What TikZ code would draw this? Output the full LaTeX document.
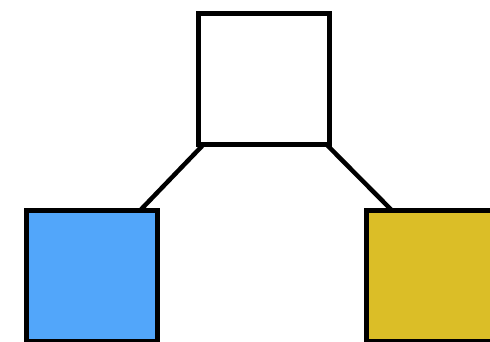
\documentclass[tikz,border=0pt]{standalone}
\begin{document}
\begin{tikzpicture}[x=1pt,y=-1pt,
  box/.style={draw=black,line width=5pt,minimum size=131pt,inner sep=0pt,outer sep=0pt},
  link/.style={draw=black,line width=4.5pt}]
\definecolor{boxblue}{HTML}{52A6FA}
\definecolor{boxyellow}{HTML}{DBBE27}
\useasboundingbox (0,0) rectangle (490,342);
\clip (0,0) rectangle (490,342);
\node[box,fill=white] (top) at (264,79) {};
\node[box,fill=boxblue] (left) at (92,275.5) {};
\node[box,fill=boxyellow] (right) at (432,275.5) {};
\draw[link] ([xshift=5pt]top.south west) -- ([xshift=-17pt]left.north east);
\draw[link] ([xshift=-3pt]top.south east) -- ([xshift=25pt]right.north west);
\end{tikzpicture}
\end{document}
